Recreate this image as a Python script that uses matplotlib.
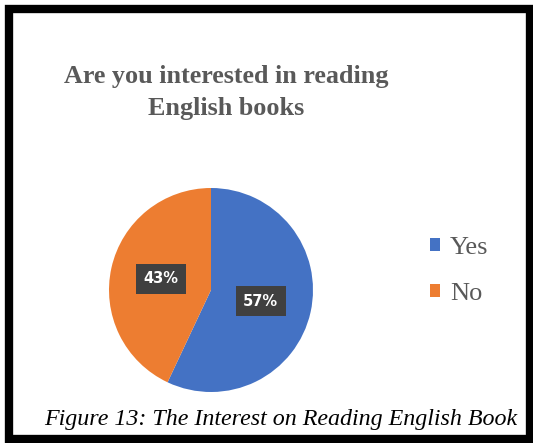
import matplotlib
matplotlib.use("Agg")
import matplotlib.pyplot as plt
from matplotlib.patches import Rectangle

# survey answers
answers = ["Yes", "No"]
shares = [57, 43]
colors = ["#4472C4", "#ED7D31"]

title_lines = ["Are you interested in reading", "English books"]
caption = "Figure 13: The Interest on Reading English Book"

W, H = 533, 443
fig = plt.figure(figsize=(W / 100, H / 100), dpi=100)
fig.patch.set_facecolor("white")

# pie area in pixel terms: centre ~(211, 290), radius ~102
ax = fig.add_axes([109 / W, 1 - 392 / H, 204 / W, 204 / H])
wedges, _, autotexts = ax.pie(
    shares, colors=colors, startangle=90, counterclock=False,
    autopct="%d%%", pctdistance=0.5,
    wedgeprops=dict(linewidth=0),
    textprops=dict(color="white", fontsize=10.5, fontweight="bold",
                   family="DejaVu Sans"))
for t in autotexts:
    t.set_bbox(dict(boxstyle="square,pad=0.5", facecolor="#404040",
                    edgecolor="none"))
ax.set_xlim(-1, 1)
ax.set_ylim(-1, 1)
ax.set_aspect("equal")

for txt, y in zip(title_lines, [77, 108]):
    fig.text(226 / W, 1 - y / H, txt, ha="center", va="center",
             fontsize=18.8, fontweight="bold", color="#595959",
             family="Liberation Serif")

leg = fig.legend(wedges, answers, loc="center left",
                 bbox_to_anchor=(430 / W, 1 - 271 / H), frameon=False,
                 prop=dict(family="Liberation Serif", size=19),
                 borderpad=0, borderaxespad=0,
                 handlelength=0.38, handleheight=0.38, handletextpad=0.38,
                 labelspacing=0.93)
for t in leg.get_texts():
    t.set_color("#595959")

fig.text(281 / W, 1 - 420 / H, caption, ha="center", va="center",
         fontsize=17.3, style="italic", family="Liberation Serif")

# heavy black frame around the whole figure
fig.patches.append(Rectangle((9 / W, 4 / H), (W - 12) / W, (H - 13) / H,
                             transform=fig.transFigure, fill=False,
                             edgecolor="black", linewidth=6))

fig.savefig("out.png", dpi=100)
